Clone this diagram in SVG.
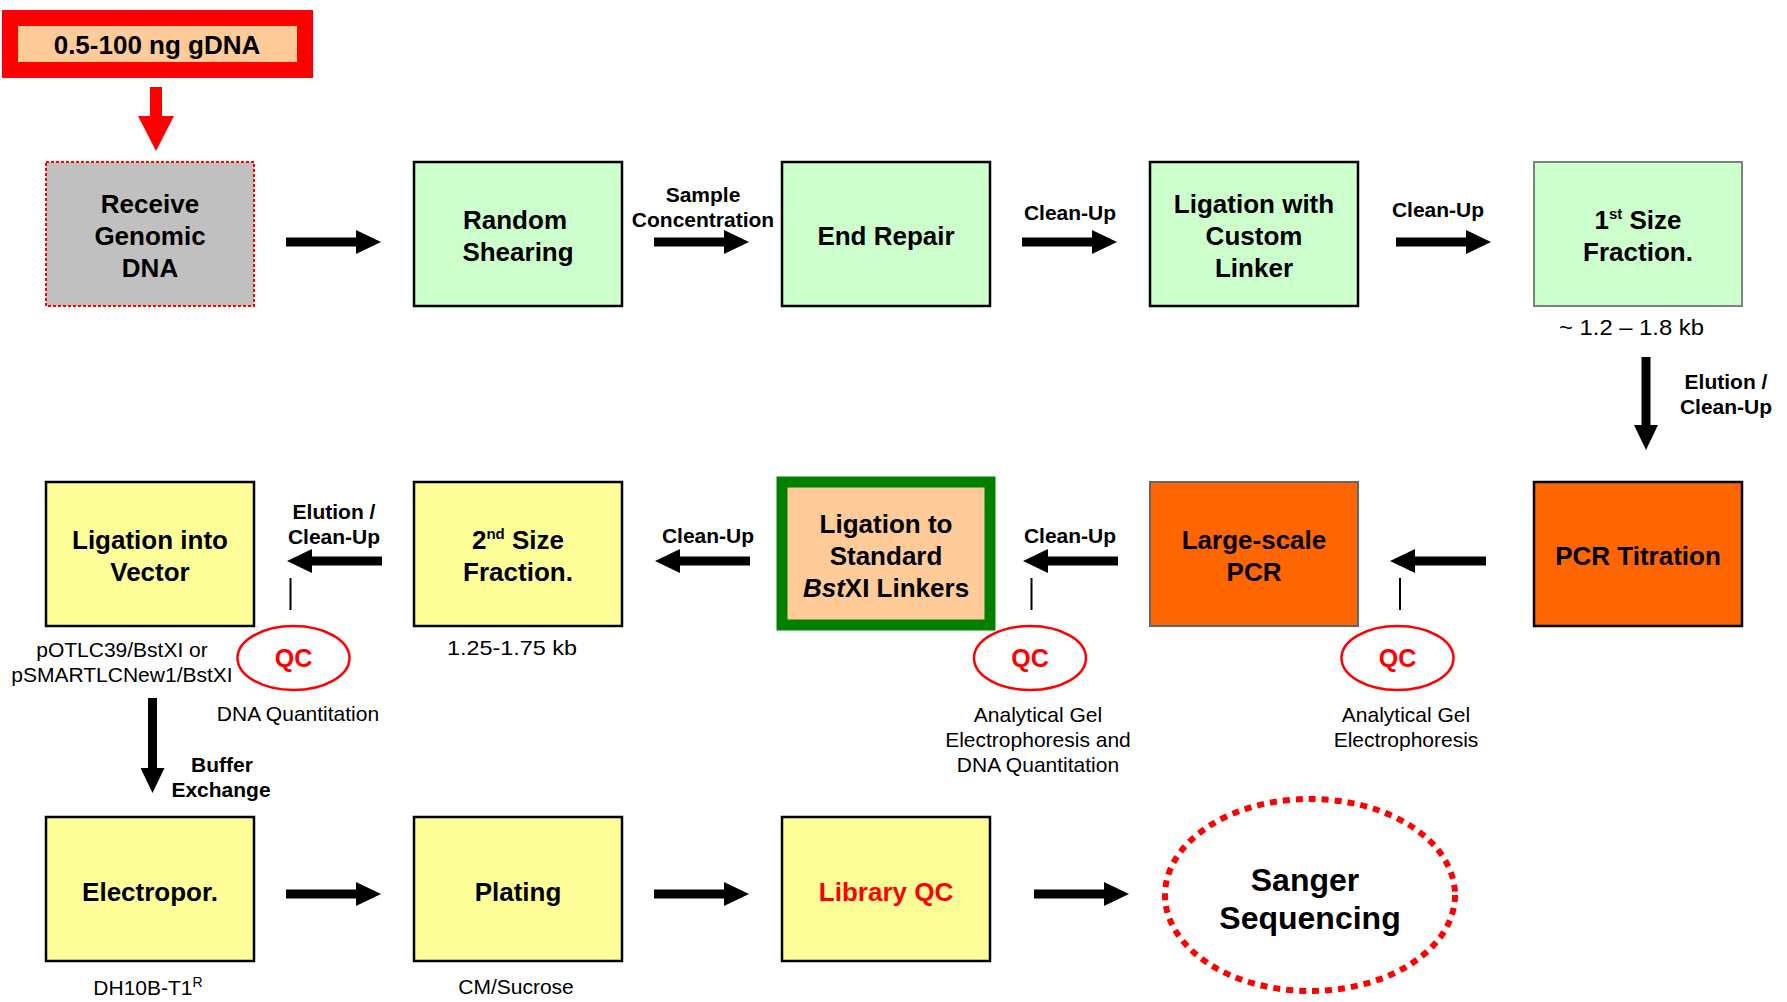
<svg xmlns="http://www.w3.org/2000/svg" width="1787" height="1002" viewBox="0 0 1787 1002">
<style>
  .bx{stroke:#000;stroke-width:2.5}
  .green{fill:#CCFFCC}
  .yellow{fill:#FFFF99}
  .orange{fill:#FF6600}
  .t{font-family:"Liberation Sans",Arial,sans-serif;font-weight:bold;font-size:26px;fill:#000;text-anchor:middle}
  .lb{font-family:"Liberation Sans",Arial,sans-serif;font-weight:bold;font-size:21px;fill:#000;text-anchor:middle}
  .rg{font-family:"Liberation Sans",Arial,sans-serif;font-size:21px;fill:#000;text-anchor:middle}
  .qc{font-family:"Liberation Sans",Arial,sans-serif;font-weight:bold;font-size:25px;fill:#FF0000;text-anchor:middle}
  .conn{stroke:#000;stroke-width:9;fill:none;marker-end:url(#ah)}
  .tick{stroke:#000;stroke-width:2}
  .qce{fill:#fff;stroke:#FF0000;stroke-width:2.5}
</style>
<defs>
  <marker id="ah" markerUnits="userSpaceOnUse" markerWidth="25" markerHeight="24" viewBox="0 0 25 24" refX="1" refY="12" orient="auto">
    <path d="M0,0 L25,12 L0,24 Z" fill="#000"/>
  </marker>
</defs>
<rect width="1787" height="1002" fill="#fff"/>

<g id="input">
  <rect x="10" y="18" width="295" height="52" fill="#FFCC99" stroke="#FF0000" stroke-width="16"/>
  <text class="t" x="157" y="54">0.5-100 ng gDNA</text>
</g>

<g id="receive">
  <rect x="46" y="162" width="208" height="144" fill="#C0C0C0" stroke="#FF0000" stroke-width="2" stroke-dasharray="3 2"/>
  <text class="t" x="150" y="213">Receive</text>
  <text class="t" x="150" y="245">Genomic</text>
  <text class="t" x="150" y="277">DNA</text>
</g>
<g id="shearing">
  <rect class="bx green" x="414" y="162" width="208" height="144"/>
  <text class="t" x="515" y="229">Random</text>
  <text class="t" x="518" y="261">Shearing</text>
</g>
<g id="endrepair">
  <rect class="bx green" x="782" y="162" width="208" height="144"/>
  <text class="t" x="886" y="245">End Repair</text>
</g>
<g id="ligcustom">
  <rect class="bx green" x="1150" y="162" width="208" height="144"/>
  <text class="t" x="1254" y="213">Ligation with</text>
  <text class="t" x="1254" y="245">Custom</text>
  <text class="t" x="1254" y="277">Linker</text>
</g>
<g id="size1">
  <rect class="green" x="1534" y="162" width="208" height="144" stroke="#808080" stroke-width="2"/>
  <text class="t" x="1638" y="229">1<tspan font-size="15" dy="-10">st</tspan><tspan dy="10"> Size</tspan></text>
  <text class="t" x="1638" y="261">Fraction.</text>
  <text class="rg" x="1631.5" y="335" style="font-size:22px" textLength="145" lengthAdjust="spacingAndGlyphs">~ 1.2 – 1.8 kb</text>
</g>

<g id="ligvector">
  <rect class="bx yellow" x="46" y="482" width="208" height="144"/>
  <text class="t" x="150" y="549">Ligation into</text>
  <text class="t" x="150" y="581">Vector</text>
  <text class="rg" x="122" y="657">pOTLC39/BstXI or</text>
  <text class="rg" x="122" y="682">pSMARTLCNew1/BstXI</text>
</g>
<g id="size2">
  <rect class="bx yellow" x="414" y="482" width="208" height="144"/>
  <text class="t" x="518" y="549">2<tspan font-size="15" dy="-10">nd</tspan><tspan dy="10"> Size</tspan></text>
  <text class="t" x="518" y="581">Fraction.</text>
  <text class="rg" x="512" y="655" textLength="130" lengthAdjust="spacingAndGlyphs">1.25-1.75 kb</text>
</g>
<g id="ligstandard">
  <rect x="782" y="482" width="208" height="143" fill="#FFCC99" stroke="#008000" stroke-width="11"/>
  <text class="t" x="886" y="533">Ligation to</text>
  <text class="t" x="886" y="565">Standard</text>
  <text class="t" x="886" y="597"><tspan font-style="italic">Bst</tspan>XI Linkers</text>
</g>
<g id="largepcr">
  <rect class="orange" x="1150" y="482" width="208" height="144" stroke="#666" stroke-width="2"/>
  <text class="t" x="1254" y="549">Large-scale</text>
  <text class="t" x="1254" y="581">PCR</text>
</g>
<g id="pcrtitration">
  <rect class="bx orange" x="1534" y="482" width="208" height="144"/>
  <text class="t" x="1638" y="565">PCR Titration</text>
</g>

<g id="qc1">
  <ellipse class="qce" cx="293.5" cy="658" rx="56" ry="32"/>
  <text class="qc" x="293.5" y="667">QC</text>
  <text class="rg" x="298" y="721">DNA Quantitation</text>
</g>
<g id="qc2">
  <ellipse class="qce" cx="1030" cy="658" rx="56" ry="32"/>
  <text class="qc" x="1030" y="667">QC</text>
  <text class="rg" x="1038" y="722">Analytical Gel</text>
  <text class="rg" x="1038" y="747">Electrophoresis and</text>
  <text class="rg" x="1038" y="772">DNA Quantitation</text>
</g>
<g id="qc3">
  <ellipse class="qce" cx="1397.5" cy="658" rx="56" ry="32"/>
  <text class="qc" x="1397.5" y="667">QC</text>
  <text class="rg" x="1406" y="722">Analytical Gel</text>
  <text class="rg" x="1406" y="747">Electrophoresis</text>
</g>

<g id="electropor">
  <rect class="bx yellow" x="46" y="817" width="208" height="144"/>
  <text class="t" x="150" y="901">Electropor.</text>
  <text class="rg" x="148" y="995">DH10B-T1<tspan font-size="14" dy="-8">R</tspan></text>
</g>
<g id="plating">
  <rect class="bx yellow" x="414" y="817" width="208" height="144"/>
  <text class="t" x="518" y="901">Plating</text>
  <text class="rg" x="516" y="994">CM/Sucrose</text>
</g>
<g id="libraryqc">
  <rect class="bx yellow" x="782" y="817" width="208" height="144"/>
  <text class="t" x="886" y="901" style="fill:#FF0000">Library QC</text>
</g>
<g id="sanger">
  <ellipse cx="1310" cy="895" rx="145" ry="96" fill="#fff" stroke="#FF0000" stroke-width="6" stroke-dasharray="7 6"/>
  <text class="t" x="1305" y="891" style="font-size:32px">Sanger</text>
  <text class="t" x="1310" y="929" style="font-size:32px">Sequencing</text>
</g>

<g id="connectors">
  <path d="M150,87 H162 V116 H174 L156,151 L138,116 H150 Z" fill="#FF0000"/>
  <line class="conn" x1="286" y1="242" x2="357" y2="242"/>
  <line class="conn" x1="654" y1="242" x2="725" y2="242"/>
  <line class="conn" x1="1022" y1="242" x2="1093" y2="242"/>
  <line class="conn" x1="1396" y1="242" x2="1467" y2="242"/>
  <line class="conn" x1="1646" y1="357" x2="1646" y2="426"/>
  <line class="conn" x1="1486" y1="561" x2="1414" y2="561"/>
  <line class="conn" x1="1118" y1="561" x2="1047" y2="561"/>
  <line class="conn" x1="750" y1="561" x2="679" y2="561"/>
  <line class="conn" x1="382" y1="561" x2="311" y2="561"/>
  <line class="conn" x1="152.5" y1="698" x2="152.5" y2="769"/>
  <line class="conn" x1="286" y1="894" x2="357" y2="894"/>
  <line class="conn" x1="654" y1="894" x2="725" y2="894"/>
  <line class="conn" x1="1034" y1="894" x2="1105" y2="894"/>
  <line class="tick" x1="290.5" y1="578" x2="290.5" y2="610"/>
  <line class="tick" x1="1031.5" y1="578" x2="1031.5" y2="610"/>
  <line class="tick" x1="1400" y1="578" x2="1400" y2="610"/>
  <text class="lb" x="703" y="202">Sample</text>
  <text class="lb" x="703" y="227">Concentration</text>
  <text class="lb" x="1070" y="220">Clean-Up</text>
  <text class="lb" x="1438" y="217">Clean-Up</text>
  <text class="lb" x="1726" y="389">Elution /</text>
  <text class="lb" x="1726" y="414">Clean-Up</text>
  <text class="lb" x="1070" y="543">Clean-Up</text>
  <text class="lb" x="708" y="543">Clean-Up</text>
  <text class="lb" x="334" y="519">Elution /</text>
  <text class="lb" x="334" y="544">Clean-Up</text>
  <text class="lb" x="222" y="772">Buffer</text>
  <text class="lb" x="221" y="797">Exchange</text>
</g>
</svg>
